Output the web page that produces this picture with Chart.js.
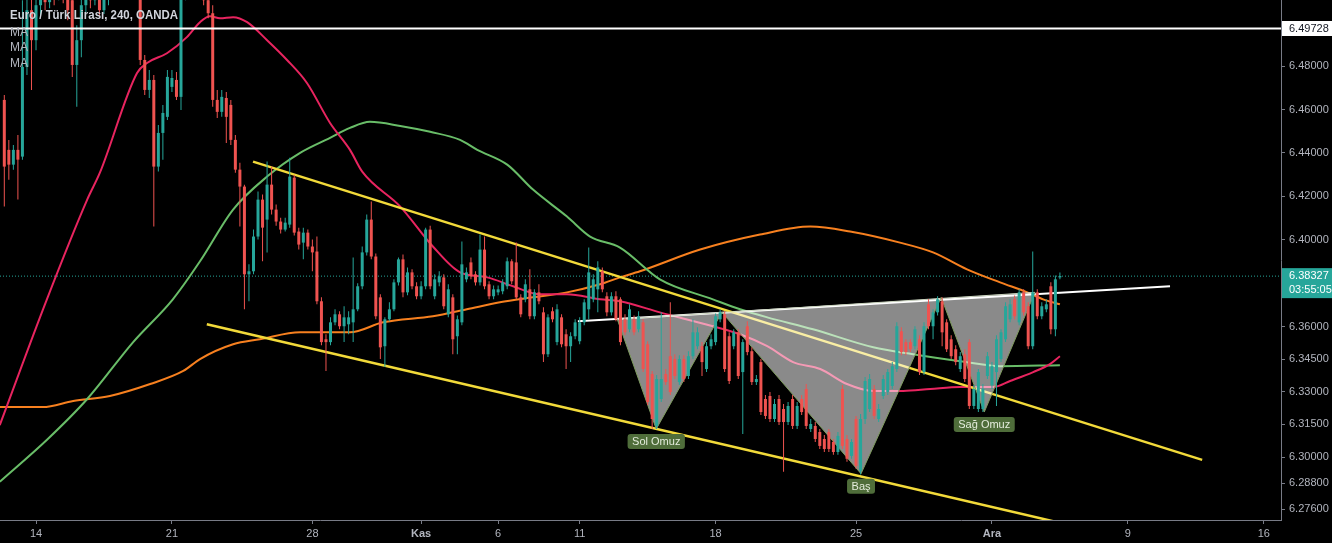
<!DOCTYPE html>
<html><head><meta charset="utf-8">
<script src="https://cdn.jsdelivr.net/npm/chart.js@4.4.1/dist/chart.umd.min.js"></script>
<style>html,body{margin:0;padding:0;background:#000;overflow:hidden}canvas{display:block}</style>
</head><body>
<canvas id="c" width="1332" height="543"></canvas>
<script>
// ---------- DATA ----------
const title = 'Euro / Türk Lirası, 240, OANDA';
const maLabels = ['MA', 'MA', 'MA'];
const firstCandle = -7; // candle number of first candle (0 = first 4h bar of 14 Oct)
const candleOpen = [
6.4644,6.4414,6.4346,6.4414,6.4383,6.4796,6.5057,6.4919,6.5080,6.5149,
6.5094,6.5172,6.5126,6.5195,6.5126,6.5103,6.4805,6.4919,6.5080,6.5149,
6.5103,6.5149,6.5057,6.5126,6.5172,6.5126,6.5218,6.5172,6.5241,6.5195,
6.5126,6.4828,6.4690,6.4736,6.4337,6.4492,6.4566,6.4704,6.4736,6.4658,
6.5126,6.5195,6.5149,6.5218,6.5149,6.5103,6.5043,6.4644,6.4589,6.4653,
6.4621,6.4460,6.4323,6.4245,6.3841,6.3855,6.4015,6.4185,6.4093,6.4254,
6.4139,6.4084,6.4047,6.4070,6.4286,6.4038,6.3987,6.4033,6.3969,6.3946,
6.3717,6.3542,6.3529,6.3620,6.3657,6.3602,6.3611,6.3620,6.3680,6.3786,
6.3942,6.4093,6.3923,6.3735,6.3510,6.3634,6.3680,6.3804,6.3910,6.3758,
6.3850,6.3786,6.3740,6.3786,6.4047,6.3740,6.3804,6.3827,6.3657,6.3735,
6.3556,6.3620,6.3818,6.3896,6.3841,6.3804,6.3955,6.3795,6.3740,6.3758,
6.3763,6.3786,6.3901,6.3896,6.3735,6.3726,6.3772,6.3648,6.3758,6.3666,
6.3473,6.3671,6.3529,6.3643,6.3565,6.3510,6.3556,6.3533,6.3620,6.3680,
6.3726,6.3772,6.3855,6.3740,6.3666,6.3740,6.3726,6.3634,6.3588,6.3634,
6.3588,6.3620,6.3519,6.3382,6.3143,6.3267,6.3382,6.3464,6.3451,6.3345,
6.3451,6.3373,6.3464,6.3510,6.3510,6.3405,6.3510,6.3529,6.3634,6.3657,
6.3556,6.3510,6.3574,6.3391,6.3602,6.3487,6.3345,6.3437,6.3267,6.3281,
6.3175,6.3267,6.3221,6.3161,6.3267,6.3143,6.3267,6.3313,6.3129,6.3143,
6.3115,6.3083,6.3115,6.3069,6.3023,6.3313,6.3083,6.3005,6.3175,6.2937,
6.3175,6.3221,6.3313,6.3175,6.3281,6.3299,6.3327,6.3405,6.3579,6.3529,
6.3529,6.3510,6.3542,6.3391,6.3703,6.3602,6.3666,6.3717,6.3620,6.3542,
6.3496,6.3405,6.3473,6.3529,6.3235,6.3221,6.3221,6.3373,6.3331,6.3391,
6.3451,6.3542,6.3634,6.3726,6.3620,6.3758,6.3694,6.3510,6.3758,6.3648,
6.3680,6.3786,6.3588,6.3827];
const candleHigh = [
6.4667,6.4460,6.4437,6.4483,6.5103,6.5195,6.5172,6.5149,6.5218,6.5218,
6.5241,6.5241,6.5264,6.5264,6.5195,6.5149,6.4988,6.5149,6.5195,6.5218,
6.5195,6.5195,6.5172,6.5218,6.5241,6.5264,6.5287,6.5310,6.5287,6.5241,
6.5149,6.4851,6.4782,6.4759,6.4529,6.4621,6.4782,6.4782,6.4773,6.5172,
6.5241,6.5264,6.5287,6.5264,6.5195,6.5149,6.5080,6.4690,6.4690,6.4681,
6.4644,6.4483,6.4355,6.4254,6.3887,6.4047,6.4222,6.4208,6.4360,6.4337,
6.4162,6.4102,6.4102,6.4378,6.4300,6.4056,6.4056,6.4047,6.4001,6.4015,
6.3735,6.3565,6.3643,6.3680,6.3671,6.3694,6.3671,6.3919,6.3800,6.3969,
6.4116,6.4176,6.3937,6.3749,6.3643,6.3712,6.3818,6.3919,6.3932,6.3873,
6.3864,6.3804,6.3809,6.4056,6.4065,6.3841,6.3855,6.3841,6.3795,6.3749,
6.3652,6.3992,6.3873,6.3919,6.3855,6.4024,6.4015,6.3809,6.3790,6.3790,
6.3818,6.3919,6.3910,6.3987,6.3749,6.3818,6.3864,6.3772,6.3795,6.3689,
6.3657,6.3689,6.3703,6.3657,6.3588,6.3574,6.3634,6.3643,6.3726,6.3965,
6.3841,6.3901,6.3873,6.3758,6.3758,6.3763,6.3735,6.3657,6.3703,6.3652,
6.3671,6.3634,6.3533,6.3396,6.3377,6.3666,6.3405,6.3712,6.3473,6.3469,
6.3469,6.3487,6.3634,6.3597,6.3529,6.3529,6.3565,6.3661,6.3680,6.3671,
6.3574,6.3588,6.3588,6.3542,6.3625,6.3505,6.3377,6.3451,6.3285,6.3299,
6.3267,6.3285,6.3244,6.3253,6.3285,6.3253,6.3285,6.3336,6.3175,6.3161,
6.3129,6.3101,6.3129,6.3083,6.3115,6.3331,6.3101,6.3083,6.3189,6.3198,
6.3368,6.3382,6.3331,6.3244,6.3377,6.3405,6.3437,6.3620,6.3597,6.3542,
6.3542,6.3602,6.3560,6.3620,6.3726,6.3680,6.3740,6.3735,6.3634,6.3560,
6.3515,6.3483,6.3496,6.3542,6.3331,6.3405,6.3336,6.3483,6.3437,6.3560,
6.3588,6.3712,6.3726,6.3744,6.3772,6.3772,6.3712,6.3946,6.3772,6.3712,
6.3726,6.3804,6.3836,6.3850];
const candleLow = [
6.4153,6.4277,6.4323,6.4185,6.4369,6.4759,6.4690,6.4873,6.5034,6.5057,
6.5066,6.5080,6.5103,6.5089,6.5011,6.4750,6.4612,6.4841,6.5048,6.5066,
6.5080,6.5034,6.5039,6.5080,6.5112,6.5117,6.5140,6.5149,6.5149,6.5112,
6.4805,6.4667,6.4653,6.4061,6.4314,6.4369,6.4552,6.4681,6.4644,6.4598,
6.5103,6.5126,6.5126,6.5126,6.5080,6.5020,6.4612,6.4561,6.4566,6.4446,
6.4437,6.4309,6.4061,6.3680,6.3717,6.3841,6.4001,6.3901,6.3942,6.4116,
6.4065,6.4029,6.4038,6.4056,6.4020,6.3955,6.3910,6.3955,6.3855,6.3703,
6.3515,6.3396,6.3515,6.3607,6.3588,6.3529,6.3565,6.3529,6.3671,6.3772,
6.3928,6.3910,6.3634,6.3451,6.3414,6.3625,6.3671,6.3790,6.3735,6.3745,
6.3772,6.3726,6.3726,6.3772,6.3772,6.3726,6.3786,6.3680,6.3643,6.3473,
6.3473,6.3607,6.3804,6.3818,6.3790,6.3790,6.3772,6.3726,6.3726,6.3745,
6.3749,6.3772,6.3795,6.3726,6.3643,6.3712,6.3634,6.3634,6.3703,6.3437,
6.3460,6.3620,6.3515,6.3505,6.3405,6.3437,6.3542,6.3519,6.3607,6.3634,
6.3712,6.3666,6.3758,6.3648,6.3652,6.3625,6.3515,6.3560,6.3574,6.3560,
6.3574,6.3391,6.3240,6.3129,6.3129,6.3253,6.3331,6.3285,6.3359,6.3331,
6.3345,6.3359,6.3451,6.3496,6.3373,6.3391,6.3496,6.3515,6.3620,6.3391,
6.3336,6.3496,6.3359,6.3106,6.3469,6.3331,6.3331,6.3193,6.3175,6.3161,
6.3161,6.3147,6.2932,6.3147,6.3129,6.3129,6.3193,6.3129,6.3115,6.3069,
6.3037,6.3023,6.3023,6.3010,6.3010,6.3037,6.2978,6.2992,6.2946,6.2919,
6.3152,6.3207,6.3175,6.3161,6.3267,6.3285,6.3313,6.3391,6.3469,6.3469,
6.3483,6.3496,6.3377,6.3377,6.3588,6.3542,6.3652,6.3510,6.3483,6.3451,
6.3423,6.3391,6.3345,6.3221,6.3221,6.3207,6.3207,6.3359,6.3313,6.3235,
6.3437,6.3529,6.3620,6.3634,6.3607,6.3652,6.3496,6.3496,6.3634,6.3634,
6.3666,6.3565,6.3556,6.3818];
const candleClose = [
6.4337,6.4346,6.4414,6.4369,6.4796,6.5057,6.4919,6.5080,6.5149,6.5094,
6.5172,6.5126,6.5195,6.5126,6.5057,6.4805,6.4919,6.5080,6.5149,6.5103,
6.5149,6.5057,6.5126,6.5172,6.5126,6.5218,6.5172,6.5241,6.5195,6.5126,
6.4828,6.4690,6.4736,6.4337,6.4492,6.4584,6.4750,6.4745,6.4658,6.5126,
6.5195,6.5149,6.5218,6.5149,6.5103,6.5043,6.4644,6.4589,6.4658,6.4566,
6.4460,6.4323,6.4245,6.3841,6.3855,6.4015,6.4185,6.4056,6.4254,6.4139,
6.4084,6.4047,6.4079,6.4291,6.4033,6.3978,6.4033,6.3969,6.3942,6.3717,
6.3529,6.3529,6.3620,6.3657,6.3602,6.3643,6.3643,6.3680,6.3786,6.3942,
6.4093,6.3923,6.3648,6.3505,6.3634,6.3680,6.3804,6.3910,6.3758,6.3850,
6.3786,6.3740,6.3786,6.4047,6.3786,6.3818,6.3832,6.3694,6.3772,6.3542,
6.3634,6.3887,6.3850,6.3832,6.3804,6.3955,6.3786,6.3740,6.3772,6.3772,
6.3804,6.3901,6.3809,6.3735,6.3657,6.3795,6.3648,6.3758,6.3717,6.3473,
6.3643,6.3634,6.3680,6.3519,6.3510,6.3556,6.3620,6.3620,6.3712,6.3850,
6.3818,6.3873,6.3772,6.3666,6.3740,6.3634,6.3529,6.3574,6.3680,6.3574,
6.3648,6.3405,6.3253,6.3175,6.3359,6.3359,6.3345,6.3299,6.3373,6.3451,
6.3359,6.3464,6.3574,6.3574,6.3437,6.3510,6.3542,6.3648,6.3666,6.3405,
6.3350,6.3574,6.3373,6.3529,6.3483,6.3345,6.3359,6.3207,6.3189,6.3175,
6.3244,6.3161,6.3161,6.3235,6.3143,6.3235,6.3207,6.3143,6.3152,6.3083,
6.3051,6.3037,6.3037,6.3023,6.3097,6.3051,6.2992,6.3069,6.2959,6.3175,
6.3350,6.3359,6.3189,6.3221,6.3359,6.3391,6.3418,6.3602,6.3483,6.3483,
6.3496,6.3588,6.3391,6.3602,6.3602,6.3666,6.3726,6.3574,6.3496,6.3464,
6.3437,6.3464,6.3359,6.3235,6.3313,6.3391,6.3313,6.3464,6.3418,6.3542,
6.3574,6.3694,6.3703,6.3648,6.3758,6.3666,6.3510,6.3758,6.3648,6.3694,
6.3703,6.3588,6.3818,6.3833];

// moving averages (candle number, price)
const maPinkX = [-8,2.4,11.3,14.1,22.3,24.5,28.9,33.3,36.2,38.4,40.6,43.5,46.6,51,55.4,59.8,64.9,69.3,72,80.4,87.6,93.6,99.6,105.3,111.3,117.2,124.5,128.9,137.7,149.4,155.4,161.4,167.1,173.1,179,184.8,191.4,197.4,204,211.3,215,220.1,223.8,226];
const maPinkY = [6.3147,6.3726,6.4185,6.4309,6.4768,6.4814,6.4859,6.4933,6.5002,6.5029,6.5020,6.5025,6.5002,6.4919,6.4828,6.4722,6.4538,6.4414,6.4314,6.4153,6.3969,6.3850,6.3827,6.3786,6.3749,6.3749,6.3726,6.3717,6.3666,6.3602,6.3565,6.3510,6.3437,6.3405,6.3336,6.3304,6.3304,6.3313,6.3322,6.3322,6.3350,6.3391,6.3428,6.3464];
const maGreenX = [-8,2.6,11.3,21.4,30.2,36.2,43.5,51,58.3,64.9,69.3,73.7,80.4,87,93.6,97.4,104,109.7,117.2,122.3,128.9,137.7,149.4,155.4,161.4,171.5,184.8,193.6,204,212.8,226];
const maGreenY = [6.2886,6.3083,6.3267,6.3528,6.3726,6.3901,6.4139,6.4291,6.4400,6.4469,6.4515,6.4543,6.4524,6.4497,6.4460,6.4414,6.4346,6.4231,6.4107,6.4015,6.3964,6.3818,6.3726,6.3680,6.3643,6.3588,6.3505,6.3473,6.3441,6.3418,6.3423];
const maOrangeX = [-8,1.5,8.2,16.3,25.2,32.5,36.2,43.5,49.4,58.3,69.3,76.6,87.6,95.1,102.4,109.7,117.2,124.5,128.9,133.3,146.6,159.8,170.9,179.7,190.7,198,205.5,212.8,218.8,222.3,226];
const maOrangeY = [6.3230,6.3230,6.3258,6.3281,6.3336,6.3396,6.3451,6.3519,6.3542,6.3574,6.3574,6.3620,6.3648,6.3680,6.3712,6.3735,6.3758,6.3795,6.3827,6.3855,6.3955,6.4024,6.4061,6.4038,6.3987,6.3942,6.3864,6.3804,6.3758,6.3726,6.3703];

// drawings
const upperTrendX = [47.9, 257.4], upperTrendY = [6.4360, 6.2987];
const lowerTrendX = [37.7, 225], lowerTrendY = [6.3611, 6.2702];
const necklineX = [119.6, 250.3], necklineY = [6.3625, 6.3786];
const resistanceLevel = 6.49728;
const lastPrice = 6.38327;
const countdown = '03:55:05';
const patternX = [128.3, 136.9, 151.4, 182.1, 199.8, 209.3, 220.5];
const patternY = [6.3634, 6.3129, 6.3666, 6.2923, 6.3735, 6.3207, 6.3758];
const patternLabels = ['', 'Sol Omuz', '', 'Baş', '', 'Sağ Omuz', ''];

// axes
const xTickValues = [0, 30, 61, 85, 102, 120, 150, 181, 211, 241, 271];
const xTickLabels = ['14', '21', '28', 'Kas', '6', '11', '18', '25', 'Ara', '9', '16'];
const yTickValues = [6.276, 6.288, 6.300, 6.315, 6.330, 6.345, 6.360, 6.400, 6.420, 6.440, 6.460, 6.480];
const X_MIN = -7.95, X_MAX = 274.8, Y_MIN = 6.2710, Y_MAX = 6.5104;

// ---------- CHART ----------
const UP = '#26a69a', DOWN = '#ef5350';
const FONT = '"Liberation Sans", Arial, sans-serif';
const pts = (xs, ys) => xs.map((x, i) => ({x, y: ys[i]}));
const candleColors = candleOpen.map((o, k) => candleClose[k] >= o ? UP : DOWN);

const lineBase = {type: 'line', pointRadius: 0, fill: false, tension: 0};

const datasets = [
  {type: 'bar', label: 'bodies', order: 1, grouped: false, barThickness: 3, minBarLength: 1, inflateAmount: 0,
   data: candleOpen.map((o, k) => ({x: firstCandle + k, y: [o, candleClose[k]]})),
   backgroundColor: candleColors, borderWidth: 0},
  {type: 'bar', label: 'wicks', order: 2, grouped: false, barThickness: 1, inflateAmount: 0,
   data: candleLow.map((l, k) => ({x: firstCandle + k, y: [l, candleHigh[k]]})),
   backgroundColor: candleColors, borderWidth: 0},
  {...lineBase, label: 'pattern', order: 3, data: pts(patternX, patternY), borderColor: '#7f9c5f', borderWidth: 1},
  {...lineBase, label: 'upper', order: 4, data: pts(upperTrendX, upperTrendY), borderColor: '#f2da3a', borderWidth: 2.5},
  {...lineBase, label: 'lower', order: 4, data: pts(lowerTrendX, lowerTrendY), borderColor: '#f2da3a', borderWidth: 2.5},
  {...lineBase, label: 'neck', order: 4, data: pts(necklineX, necklineY), borderColor: '#ffffff', borderWidth: 2},
  {...lineBase, label: 'resist', order: -1, data: pts([X_MIN, X_MAX], [resistanceLevel, resistanceLevel]), borderColor: '#ffffff', borderWidth: 2},
  {...lineBase, label: 'maPink', order: 6, data: pts(maPinkX, maPinkY), borderColor: '#e8245f', borderWidth: 2, cubicInterpolationMode: 'monotone'},
  {...lineBase, label: 'maGreen', order: 6, data: pts(maGreenX, maGreenY), borderColor: '#69bd68', borderWidth: 2, cubicInterpolationMode: 'monotone'},
  {...lineBase, label: 'maOrange', order: 6, data: pts(maOrangeX, maOrangeY), borderColor: '#f7801f', borderWidth: 2, cubicInterpolationMode: 'monotone'},
  {...lineBase, label: 'priceLine', order: 9, data: pts([X_MIN, X_MAX], [lastPrice, lastPrice]), borderColor: UP, borderWidth: 1, borderDash: [1, 2]}
];

const bgPlugin = {
  id: 'bg',
  beforeDraw(chart) {
    const c = chart.ctx; c.save(); c.fillStyle = '#000'; c.fillRect(0, 0, chart.width, chart.height); c.restore();
  }
};

const patternPlugin = {
  id: 'patternFill',
  beforeDatasetDraw(chart, args) {
    if (chart.data.datasets[args.index].label !== 'pattern') return;
    const p = args.meta.data, c = chart.ctx, a = chart.chartArea;
    c.save();
    c.beginPath(); c.rect(a.left, a.top, a.right - a.left, a.bottom - a.top); c.clip();
    c.beginPath();
    p.forEach((q, i) => i ? c.lineTo(q.x, q.y) : c.moveTo(q.x, q.y));
    c.closePath();
    c.fillStyle = 'rgba(255,255,255,0.54)';
    c.fill();
    c.beginPath(); c.moveTo(p[p.length - 1].x, p[p.length - 1].y); c.lineTo(p[0].x, p[0].y);
    c.strokeStyle = '#c9d3bd'; c.lineWidth = 1; c.stroke();
    c.restore();
  },
  afterDatasetsDraw(chart) {
    const idx = chart.data.datasets.findIndex(d => d.label === 'pattern');
    const p = chart.getDatasetMeta(idx).data, c = chart.ctx;
    c.save();
    c.font = '11px ' + FONT; c.textAlign = 'center'; c.textBaseline = 'middle';
    patternLabels.forEach((t, i) => {
      if (!t) return;
      const w = c.measureText(t).width + 9, h = 15, x = p[i].x, y = p[i].y + 12.5;
      c.fillStyle = '#4f6d3a';
      c.beginPath();
      if (c.roundRect) c.roundRect(x - w / 2, y - h / 2, w, h, 3); else c.rect(x - w / 2, y - h / 2, w, h);
      c.fill();
      c.fillStyle = '#e4ecdc';
      c.fillText(t, x, y + 0.5);
    });
    c.restore();
  }
};

const overlayPlugin = {
  id: 'overlay',
  afterDraw(chart) {
    const c = chart.ctx, a = chart.chartArea, ys = chart.scales.y;
    c.save();
    c.textBaseline = 'alphabetic'; c.textAlign = 'left';
    c.font = 'bold 12px ' + FONT; c.fillStyle = '#d1d4dc';
    c.fillText(title, 10, 19, 168);
    c.font = '12px ' + FONT; c.fillStyle = '#b2b5be';
    maLabels.forEach((t, i) => c.fillText(t, 10, 36 + i * 15.3));
    // price tags
    c.font = '11px ' + FONT; c.textBaseline = 'middle';
    const yr = ys.getPixelForValue(resistanceLevel);
    c.fillStyle = '#ffffff'; c.fillRect(a.right + 1, yr - 7.5, chart.width - a.right, 15);
    c.fillStyle = '#131722'; c.fillText(resistanceLevel.toFixed(5), a.right + 8, yr + 0.5);
    const yl = ys.getPixelForValue(lastPrice);
    c.fillStyle = UP; c.fillRect(a.right + 1, yl - 8, chart.width - a.right, 30);
    c.fillStyle = '#ffffff';
    c.fillText(lastPrice.toFixed(5), a.right + 8, yl);
    c.fillText(countdown, a.right + 8, yl + 14);
    c.restore();
  }
};

new Chart(document.getElementById('c'), {
  type: 'bar',
  data: {datasets},
  plugins: [bgPlugin, patternPlugin, overlayPlugin],
  options: {
    responsive: false, animation: false, devicePixelRatio: 1, events: [],
    layout: {padding: 0},
    plugins: {legend: {display: false}, tooltip: {enabled: false}},
    scales: {
      x: {
        type: 'linear', min: X_MIN, max: X_MAX, offset: false, bounds: 'data',
        afterBuildTicks: s => { s.ticks = xTickValues.map(v => ({value: v})); },
        afterFit: s => { s.height = 23; s.paddingLeft = 0; s.paddingRight = 0; },
        grid: {offset: false, drawOnChartArea: false, drawTicks: true, tickLength: 4, color: '#787b86'},
        border: {display: true, color: '#787b86'},
        ticks: {
          color: '#b2b5be', padding: 3, maxRotation: 0, autoSkip: false,
          font: ctx => {
            const lbl = ctx.tick ? xTickLabels[xTickValues.indexOf(ctx.tick.value)] : '';
            return {family: FONT, size: 11, weight: (lbl === 'Kas' || lbl === 'Ara') ? 'bold' : 'normal'};
          },
          callback: v => { const i = xTickValues.indexOf(v); return i >= 0 ? xTickLabels[i] : ''; }
        }
      },
      y: {
        type: 'linear', position: 'right', min: Y_MIN, max: Y_MAX, beginAtZero: false, bounds: 'data',
        afterBuildTicks: s => { s.ticks = yTickValues.map(v => ({value: v})); },
        afterFit: s => { s.width = 51; s.paddingTop = 0; s.paddingBottom = 0; },
        grid: {drawOnChartArea: false, drawTicks: true, tickLength: 4, color: '#787b86'},
        border: {display: true, color: '#787b86'},
        ticks: {color: '#b2b5be', padding: 4, autoSkip: false, crossAlign: 'near',
                font: {family: FONT, size: 11}, callback: v => Number(v).toFixed(5)}
      }
    }
  }
});
</script>
</body></html>
